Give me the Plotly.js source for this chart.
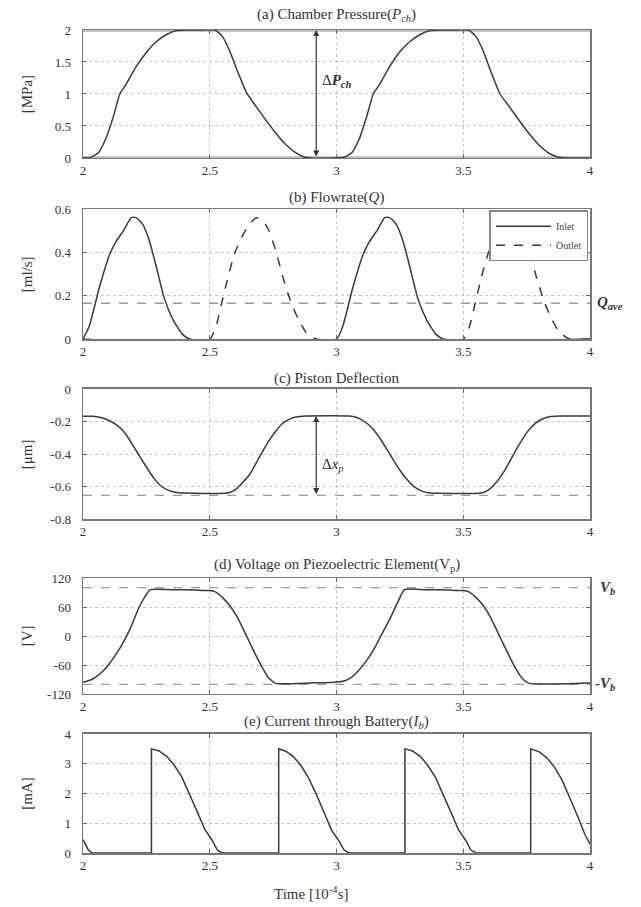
<!DOCTYPE html>
<html>
<head>
<meta charset="utf-8">
<script src="https://cdn.plot.ly/plotly-3.0.1.min.js"></script>
<style>html,body{margin:0;padding:0;background:#fff;}#chart{width:641px;height:907px;}</style>
</head>
<body>
<div id="chart"></div>
<script>
// ---------- DATA (time in 10^-4 s) ----------
const X_TICKS = [2, 2.5, 3, 3.5, 4];

// (a) chamber pressure [MPa]
const pT = [2.00,2.03,2.06,2.09,2.12,2.145,2.17,2.21,2.25,2.29,2.33,2.37,2.40,2.45,2.52,2.55,2.58,2.61,2.645,2.68,2.72,2.76,2.80,2.84,2.87,2.90,2.98,3.03,3.06,3.09,3.12,3.145,3.17,3.21,3.25,3.29,3.33,3.37,3.40,3.45,3.52,3.55,3.58,3.61,3.645,3.68,3.72,3.76,3.80,3.84,3.87,3.90,3.98,4.00];
const pV = [0,0.01,0.08,0.30,0.65,1.00,1.15,1.43,1.65,1.82,1.93,1.99,2.0,2.0,2.0,1.90,1.66,1.35,1.02,0.82,0.60,0.39,0.21,0.08,0.02,0,0,0.01,0.08,0.30,0.66,1.00,1.15,1.43,1.66,1.82,1.93,1.99,2.0,2.0,2.0,1.90,1.66,1.34,1.00,0.81,0.59,0.38,0.20,0.07,0.02,0,0,0];
const pRef = [0, 2];

// (b) flowrate [ml/s]
const qInT = [2.00,2.025,2.065,2.105,2.13,2.16,2.19,2.21,2.235,2.26,2.29,2.32,2.355,2.39,2.42,3.00,3.025,3.065,3.105,3.13,3.16,3.19,3.21,3.235,3.26,3.29,3.32,3.355,3.39,3.42,4.00];
const qInV = [0,0.06,0.24,0.39,0.45,0.50,0.56,0.56,0.53,0.46,0.33,0.19,0.09,0.025,0,0,0.06,0.24,0.39,0.45,0.50,0.56,0.56,0.53,0.46,0.33,0.19,0.09,0.025,0,0];
const qOutT = [2.00,2.50,2.525,2.55,2.575,2.60,2.635,2.665,2.685,2.705,2.73,2.76,2.79,2.82,2.85,2.88,2.92,3.50,3.525,3.55,3.575,3.60,3.635,3.665,3.685,3.705,3.73,3.76,3.79,3.82,3.85,3.88,3.92,4.00];
const qOutV = [0,0,0.06,0.18,0.30,0.40,0.49,0.54,0.56,0.55,0.51,0.41,0.28,0.17,0.09,0.03,0,0,0.06,0.18,0.30,0.40,0.49,0.54,0.56,0.55,0.51,0.41,0.28,0.17,0.09,0.03,0,0];
const qAve = 0.165;

// (c) piston deflection [um]
const xT = [2.00,2.04,2.08,2.11,2.14,2.17,2.21,2.25,2.28,2.31,2.34,2.37,2.40,2.57,2.60,2.63,2.66,2.685,2.71,2.735,2.76,2.785,2.81,2.84,2.88,3.05,3.08,3.11,3.14,3.17,3.21,3.25,3.28,3.31,3.34,3.37,3.40,3.57,3.60,3.63,3.66,3.685,3.71,3.735,3.76,3.785,3.81,3.84,3.88,4.00];
const xV = [-0.167,-0.168,-0.18,-0.20,-0.23,-0.28,-0.38,-0.48,-0.55,-0.60,-0.625,-0.637,-0.64,-0.64,-0.62,-0.575,-0.52,-0.45,-0.38,-0.315,-0.26,-0.215,-0.188,-0.172,-0.166,-0.166,-0.175,-0.20,-0.24,-0.30,-0.40,-0.50,-0.56,-0.605,-0.63,-0.64,-0.642,-0.64,-0.62,-0.575,-0.51,-0.44,-0.37,-0.305,-0.25,-0.21,-0.186,-0.171,-0.166,-0.166];
const xRef = -0.655;

// (d) voltage on piezo element [V]
const vT = [2.00,2.03,2.05,2.08,2.10,2.13,2.16,2.19,2.22,2.245,2.265,2.35,2.45,2.50,2.52,2.55,2.58,2.61,2.645,2.68,2.71,2.735,2.76,2.90,2.98,3.03,3.06,3.09,3.12,3.15,3.18,3.21,3.24,3.268,3.35,3.45,3.50,3.52,3.55,3.58,3.61,3.645,3.68,3.71,3.735,3.76,4.00];
const vV = [-96,-91,-85,-72,-60,-38,-12,20,58,82,96,96,95,94,92,80,62,38,0,-38,-68,-88,-98,-97,-96,-93,-85,-70,-50,-25,5,35,68,96,96,95,94,92,80,62,36,-2,-40,-70,-89,-98,-97];
const vRef = [100, -100];

// (e) current through battery [mA]
const iT = [2.00,2.01,2.02,2.035,2.27,2.27,2.30,2.33,2.36,2.39,2.42,2.45,2.48,2.51,2.53,2.55,2.565,2.772,2.772,2.80,2.83,2.86,2.89,2.92,2.95,2.98,3.01,3.03,3.05,3.065,3.27,3.27,3.30,3.33,3.36,3.39,3.42,3.45,3.48,3.51,3.53,3.55,3.565,3.766,3.766,3.80,3.83,3.86,3.89,3.92,3.95,3.98,4.00];
const iV = [0.45,0.30,0.12,0,0,3.5,3.43,3.25,2.95,2.55,2.0,1.4,0.8,0.42,0.1,0,0,0,3.5,3.42,3.24,2.94,2.52,1.98,1.38,0.78,0.4,0.1,0,0,0,3.5,3.43,3.25,2.95,2.55,2.0,1.4,0.8,0.42,0.1,0,0,0,3.5,3.40,3.20,2.88,2.45,1.88,1.26,0.62,0.3];

// ---------- DRAWING ----------
const FONT = "'Liberation Serif', 'Times New Roman', 'DejaVu Serif', serif";
const CURVE = {color:'#3a3a3a', width:1.5, shape:'spline', smoothing:0.5};
const REF = {color:'#9a9a9a', width:1.3, dash:'dash'};
const X0 = X_TICKS[0], X1 = X_TICKS[X_TICKS.length-1];

const traces = [
  {x:[X0, X1], y:[pRef[0],pRef[0]], xaxis:'x', yaxis:'y', mode:'lines', line:{color:'#c4c4c4', width:4}, showlegend:false},
  {x:[X0, X1], y:[pRef[1],pRef[1]], xaxis:'x', yaxis:'y', mode:'lines', line:{color:'#c4c4c4', width:4}, showlegend:false},
  {x:pT, y:pV, xaxis:'x', yaxis:'y', mode:'lines', line:CURVE, showlegend:false},

  {x:[X0, X1], y:[qAve,qAve], xaxis:'x2', yaxis:'y2', mode:'lines', line:REF, showlegend:false},
  {x:qInT, y:qInV, xaxis:'x2', yaxis:'y2', mode:'lines', name:'Inlet', line:CURVE, showlegend:true},
  {x:qOutT, y:qOutV, xaxis:'x2', yaxis:'y2', mode:'lines', name:'Outlet', line:{color:'#3a3a3a', width:1.5, dash:'dash', shape:'spline', smoothing:0.5}, showlegend:true},

  {x:[X0, X1], y:[xRef,xRef], xaxis:'x3', yaxis:'y3', mode:'lines', line:REF, showlegend:false},
  {x:xT, y:xV, xaxis:'x3', yaxis:'y3', mode:'lines', line:CURVE, showlegend:false},

  {x:[X0, X1], y:[vRef[0],vRef[0]], xaxis:'x4', yaxis:'y4', mode:'lines', line:REF, showlegend:false},
  {x:[X0, X1], y:[vRef[1],vRef[1]], xaxis:'x4', yaxis:'y4', mode:'lines', line:REF, showlegend:false},
  {x:vT, y:vV, xaxis:'x4', yaxis:'y4', mode:'lines', line:CURVE, showlegend:false},

  {x:iT, y:iV, xaxis:'x5', yaxis:'y5', mode:'lines', line:{color:'#3a3a3a', width:1.5}, showlegend:false}
];

const doms = [[0.8445,1.0],[0.6245,0.7825],[0.4058,0.5638],[0.1932,0.3341],[0,0.1446]];
const yTicks = [[0,0.5,1,1.5,2],[0,0.2,0.4,0.6],[-0.8,-0.6,-0.4,-0.2,0],[-120,-60,0,60,120],[0,1,2,3,4]];
const yRanges = [[0,2],[0,0.6],[-0.8,0],[-120,120],[0,4]];
const titles = ['(a) Chamber Pressure(<i>P<sub>ch</sub></i>)','(b) Flowrate(<i>Q</i>)','(c) Piston Deflection','(d) Voltage on Piezoelectric Element(V<sub>p</sub>)','(e) Current through Battery(<i>I<sub>b</sub></i>)'];
const titleY = [1.018,0.797,0.577,0.350,0.159];
const yLabels = ['[MPa]','[ml/s]','[μm]','[V]','[mA]'];

const layout = {
  width:641, height:907,
  margin:{l:83, r:51, t:30, b:54},
  paper_bgcolor:'#fff', plot_bgcolor:'#fff',
  font:{family:FONT, size:13, color:'#333'},
  showlegend:true,
  legend:{x:0.997, y:0.781, xanchor:'right', yanchor:'top', xref:'paper', yref:'paper',
          bgcolor:'#fff', bordercolor:'#888', borderwidth:1.5, font:{family:FONT,size:10,color:'#444'},
          tracegroupgap:0, itemwidth:55},
  annotations:[]
};

for(let i=0;i<5;i++){
  const s = i===0 ? '' : String(i+1);
  layout['xaxis'+s] = {
    domain:[0,1], anchor:'y'+s, range:[X0, X1],
    tickvals:X_TICKS, ticktext:X_TICKS.map(String),
    ticks:'inside', ticklen:4, tickcolor:'#666', mirror:'ticks',
    showline:true, linecolor:'#777', linewidth:1.5,
    showgrid:true, gridcolor:'#c4c4c4', griddash:'dot', gridwidth:1,
    zeroline:false, tickfont:{family:FONT,size:13,color:'#333'}
  };
  layout['yaxis'+s] = {
    domain:doms[i], anchor:'x'+s, range:yRanges[i],
    tickvals:yTicks[i], ticktext:yTicks[i].map(String),
    ticks:'inside', ticklen:4, tickcolor:'#666', mirror:'ticks',
    showline:true, linecolor:'#777', linewidth:1.5,
    showgrid:true, gridcolor:'#c4c4c4', griddash:'dot', gridwidth:1,
    zeroline:false, ticklabelstandoff:8, tickfont:{family:FONT,size:13,color:'#333'}
  };
  layout.annotations.push({xref:'paper', yref:'paper', x:0.5, y:titleY[i], text:titles[i], showarrow:false,
    xanchor:'center', yanchor:'middle', font:{family:FONT,size:15,color:'#333'}});
  layout.annotations.push({xref:'paper', yref:'paper', x:-0.11, y:(doms[i][0]+doms[i][1])/2, text:yLabels[i],
    showarrow:false, textangle:-90, xanchor:'center', yanchor:'middle', font:{family:FONT,size:15,color:'#333'}});
}

// arrows & labels
const pMax = Math.max(...pV), pMin = Math.min(...pV);
const xMaxC = Math.max(...xV);
const arrowX = 2.92;
layout.annotations.push(
  {xref:'x', yref:'y', axref:'x', ayref:'y', x:arrowX, y:pMax, ax:arrowX, ay:pMin, text:'', showarrow:true,
   arrowhead:2, arrowside:'end+start', arrowsize:1, arrowwidth:1.2, arrowcolor:'#333'},
  {xref:'x', yref:'y', x:arrowX+0.015, y:1.2, text:'Δ<b><i>P<sub>ch</sub></i></b>', showarrow:false, xanchor:'left',
   font:{family:FONT,size:15,color:'#333'}},
  {xref:'x3', yref:'y3', axref:'x3', ayref:'y3', x:arrowX, y:xMaxC, ax:arrowX, ay:xRef, text:'', showarrow:true,
   arrowhead:2, arrowside:'end+start', arrowsize:1, arrowwidth:1.2, arrowcolor:'#333'},
  {xref:'x3', yref:'y3', x:arrowX+0.015, y:-0.47, text:'Δ<i>x<sub>p</sub></i>', showarrow:false, xanchor:'left',
   font:{family:FONT,size:15,color:'#333'}},
  {xref:'paper', yref:'y2', x:1.01, y:qAve, text:'<b><i>Q<sub>ave</sub></i></b>', showarrow:false, xanchor:'left',
   font:{family:FONT,size:15,color:'#333'}},
  {xref:'paper', yref:'y4', x:1.015, y:vRef[0], text:'<b><i>V<sub>b</sub></i></b>', showarrow:false, xanchor:'left',
   font:{family:FONT,size:15,color:'#333'}},
  {xref:'paper', yref:'y4', x:1.005, y:vRef[1], text:'<b>-<i>V<sub>b</sub></i></b>', showarrow:false, xanchor:'left',
   font:{family:FONT,size:15,color:'#333'}},
  {xref:'paper', yref:'paper', x:0.45, y:-0.049, text:'Time [10<sup>-4</sup>s]', showarrow:false, xanchor:'center',
   yanchor:'middle', font:{family:FONT,size:15,color:'#333'}}
);

Plotly.newPlot('chart', traces, layout, {displayModeBar:false, staticPlot:true});
</script>
</body>
</html>
